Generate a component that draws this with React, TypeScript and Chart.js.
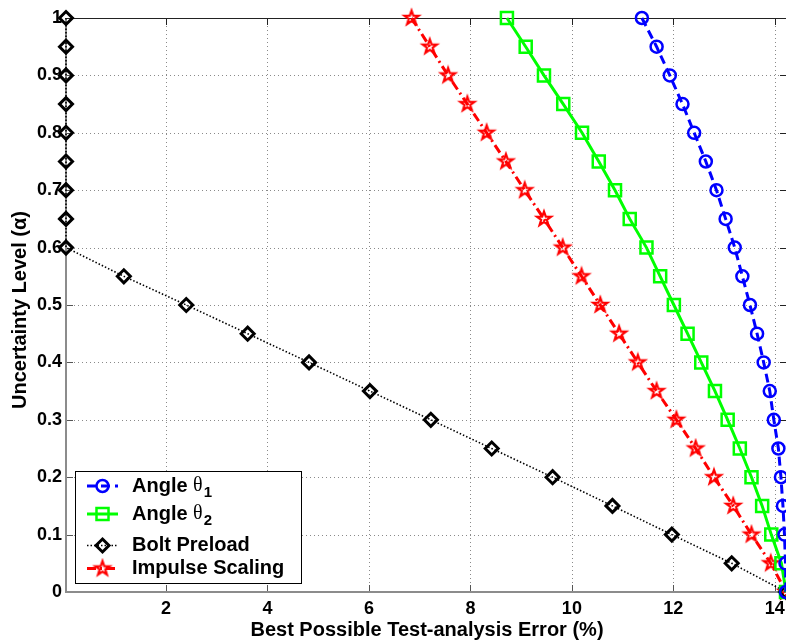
import { useEffect, useRef } from 'react';
import { Chart, registerables } from 'chart.js';

Chart.register(...registerables);

// Uncertainty levels shared by every curve (y values, top to bottom)
const uncertaintyLevels = [1.0, 0.95, 0.9, 0.85, 0.8, 0.75, 0.7, 0.65, 0.6, 0.55, 0.5, 0.45, 0.4, 0.35, 0.3, 0.25, 0.2, 0.15, 0.1, 0.05, 0];

// Best possible test-analysis error (%) for each parameter
const angleTheta1Error = [11.38, 11.67, 11.93, 12.18, 12.41, 12.64, 12.85, 13.03, 13.21, 13.36, 13.51, 13.65, 13.78, 13.9, 13.98, 14.07, 14.12, 14.16, 14.19, 14.21, 14.22];
const angleTheta2Error = [8.72, 9.09, 9.45, 9.83, 10.2, 10.53, 10.85, 11.14, 11.47, 11.74, 12.01, 12.28, 12.55, 12.82, 13.07, 13.31, 13.54, 13.75, 13.93, 14.13, 14.22];
const boltPreloadError = [0.03, 0.03, 0.03, 0.03, 0.03, 0.03, 0.03, 0.03, 0.03, 1.17, 2.4, 3.61, 4.82, 6.02, 7.22, 8.42, 9.62, 10.8, 11.97, 13.15, 14.22];
const impulseScalingError = [6.84, 7.2, 7.56, 7.94, 8.32, 8.7, 9.07, 9.45, 9.82, 10.19, 10.56, 10.93, 11.3, 11.67, 12.06, 12.44, 12.8, 13.18, 13.54, 13.92, 14.22];

const xTickValues = [2, 4, 6, 8, 10, 12, 14];
const yTickValues = [0, 0.1, 0.2, 0.3, 0.4, 0.5, 0.6, 0.7, 0.8, 0.9, 1];
const yTickLabels = ['0', '0.1', '0.2', '0.3', '0.4', '0.5', '0.6', '0.7', '0.8', '0.9', '1'];

const X_MIN = 0.03;
const X_MAX = 14.22;

const SANS = "'Liberation Sans', Arial, Helvetica, sans-serif";
const SERIF = "'Liberation Serif', 'Times New Roman', serif";

function makePentagram(color: string, outer: number, inner: number, lw: number) {
  const size = Math.ceil(outer * 2 + lw * 2 + 2);
  const c = document.createElement('canvas');
  c.width = size;
  c.height = size;
  const g = c.getContext('2d')!;
  const cx = size / 2;
  const cy = size / 2;
  g.beginPath();
  for (let i = 0; i < 10; i++) {
    const r = i % 2 === 0 ? outer : inner;
    const a = -Math.PI / 2 + (i * Math.PI) / 5;
    const px = cx + r * Math.cos(a);
    const py = cy + r * Math.sin(a);
    if (i === 0) g.moveTo(px, py);
    else g.lineTo(px, py);
  }
  g.closePath();
  g.strokeStyle = color;
  g.lineWidth = lw;
  g.lineJoin = 'miter';
  g.stroke();
  return c;
}

function toPoints(xs: number[]) {
  return xs.map((x, i) => ({ x, y: uncertaintyLevels[i] }));
}

export default function App() {
  const canvasRef = useRef<HTMLCanvasElement | null>(null);

  useEffect(() => {
    const canvas = canvasRef.current;
    if (!canvas) return;
    const star = makePentagram('#ff0000', 7.5, 3.0, 2.2);

    const series = [
      { label: 'Angle', sub: '1', color: '#0000ff', dash: [9, 5], width: 3, style: 'circle', radius: 6, border: 2.5, data: angleTheta1Error },
      { label: 'Angle', sub: '2', color: '#00ff00', dash: [] as number[], width: 3, style: 'rect', radius: 8.5, border: 2.5, data: angleTheta2Error },
      { label: 'Bolt Preload', sub: '', color: '#000000', dash: [1.5, 2], width: 1.6, style: 'rectRot', radius: 6.5, border: 3, data: boltPreloadError },
      { label: 'Impulse Scaling', sub: '', color: '#ff0000', dash: [9, 4, 2, 4], width: 3, style: 'star', radius: 7.5, border: 2, data: impulseScalingError },
    ];

    const framePlugin = {
      id: 'frame',
      beforeDatasetsDraw(chart: any) {
        const { ctx, chartArea } = chart;
        const { left, right, top, bottom } = chartArea;
        const xs = chart.scales.x;
        const ys = chart.scales.y;
        ctx.save();
        // dotted grid
        ctx.strokeStyle = '#8a8a8a';
        ctx.lineWidth = 1;
        ctx.setLineDash([1, 3]);
        xTickValues.forEach((v) => {
          const px = Math.round(xs.getPixelForValue(v)) + 0.5;
          ctx.beginPath();
          ctx.moveTo(px, top);
          ctx.lineTo(px, bottom);
          ctx.stroke();
        });
        yTickValues.filter((v) => v > 0 && v < 1).forEach((v) => {
          const py = Math.round(ys.getPixelForValue(v)) + 0.5;
          ctx.beginPath();
          ctx.moveTo(left, py);
          ctx.lineTo(right, py);
          ctx.stroke();
        });
        ctx.setLineDash([]);
        // tick marks pointing into the box
        const tl = 7;
        xTickValues.forEach((v) => {
          const px = Math.round(xs.getPixelForValue(v)) + 0.5;
          ctx.strokeStyle = '#555555';
          ctx.beginPath();
          ctx.moveTo(px, bottom);
          ctx.lineTo(px, bottom - tl);
          ctx.stroke();
          ctx.strokeStyle = '#222222';
          ctx.beginPath();
          ctx.moveTo(px, top);
          ctx.lineTo(px, top + tl);
          ctx.stroke();
        });
        yTickValues.forEach((v) => {
          const py = Math.round(ys.getPixelForValue(v)) + 0.5;
          ctx.strokeStyle = '#555555';
          ctx.beginPath();
          ctx.moveTo(left, py);
          ctx.lineTo(left + tl, py);
          ctx.stroke();
          ctx.strokeStyle = '#222222';
          ctx.beginPath();
          ctx.moveTo(right, py);
          ctx.lineTo(right - tl + 1, py);
          ctx.stroke();
        });
        // box
        ctx.strokeStyle = '#222222';
        ctx.lineWidth = 1.2;
        ctx.beginPath();
        ctx.moveTo(left, top + 0.5);
        ctx.lineTo(right, top + 0.5);
        ctx.stroke();
        ctx.strokeStyle = '#8c8c8c';
        ctx.lineWidth = 2;
        ctx.beginPath();
        ctx.moveTo(left, top);
        ctx.lineTo(left, bottom);
        ctx.lineTo(right, bottom);
        ctx.stroke();
        ctx.restore();
      },
      afterDraw(chart: any) {
        const { ctx } = chart;
        ctx.save();
        // axis titles
        ctx.fillStyle = '#000';
        ctx.font = `bold 20px ${SANS}`;
        ctx.textAlign = 'center';
        ctx.textBaseline = 'middle';
        ctx.fillText('Best Possible Test-analysis Error (%)', 427, 630);
        ctx.save();
        ctx.translate(20, 310);
        ctx.rotate(-Math.PI / 2);
        ctx.fillText('Uncertainty Level (α)', 0, 0);
        ctx.restore();

        // legend box
        const bx = 75, by = 471, bw = 226, bh = 112;
        ctx.fillStyle = '#ffffff';
        ctx.fillRect(bx, by, bw, bh);
        ctx.strokeStyle = '#000';
        ctx.lineWidth = 1;
        ctx.strokeRect(bx + 0.5, by + 0.5, bw, bh);
        const rows = [486, 514, 545.5, 568.5];
        series.forEach((s, i) => {
          const cy = rows[i];
          ctx.strokeStyle = s.color;
          ctx.lineWidth = s.width;
          ctx.setLineDash(s.dash);
          ctx.beginPath();
          ctx.moveTo(87, cy);
          ctx.lineTo(118, cy);
          ctx.stroke();
          ctx.setLineDash([]);
          const mx = 102.5;
          ctx.lineWidth = s.border;
          ctx.strokeStyle = s.color;
          ctx.beginPath();
          if (s.style === 'circle') {
            ctx.arc(mx, cy, s.radius, 0, Math.PI * 2);
            ctx.stroke();
          } else if (s.style === 'rect') {
            const h = s.radius * Math.SQRT1_2;
            ctx.rect(mx - h, cy - h, 2 * h, 2 * h);
            ctx.stroke();
          } else if (s.style === 'rectRot') {
            ctx.moveTo(mx, cy - s.radius);
            ctx.lineTo(mx + s.radius, cy);
            ctx.lineTo(mx, cy + s.radius);
            ctx.lineTo(mx - s.radius, cy);
            ctx.closePath();
            ctx.stroke();
          } else {
            ctx.drawImage(star, mx - star.width / 2, cy - star.height / 2);
          }
          ctx.fillStyle = '#000';
          ctx.textAlign = 'left';
          ctx.textBaseline = 'middle';
          ctx.font = `bold 20px ${SANS}`;
          const tx = 132;
          if (s.sub) {
            const t = s.label + ' ';
            ctx.fillText(t, tx, cy);
            let w = ctx.measureText(t).width;
            ctx.font = `20px ${SERIF}`;
            ctx.fillText('θ', tx + w, cy);
            w += ctx.measureText('θ').width;
            ctx.font = `bold 15px ${SANS}`;
            ctx.fillText(s.sub, tx + w + 1, cy + 7);
          } else {
            ctx.fillText(s.label, tx, cy);
          }
        });
        ctx.restore();
      },
    };

    const chart = new Chart(canvas, {
      type: 'line',
      data: {
        datasets: series.map((s) => ({
          label: s.label + (s.sub ? ' θ' + s.sub : ''),
          data: toPoints(s.data),
          borderColor: s.color,
          borderWidth: s.width,
          borderDash: s.dash,
          pointStyle: s.style === 'star' ? star : s.style,
          pointRadius: s.radius,
          pointBorderWidth: s.border,
          pointBorderColor: s.color,
          pointBackgroundColor: 'rgba(0,0,0,0)',
          fill: false,
          tension: 0,
          clip: false as any,
        })) as any,
      },
      options: {
        responsive: false,
        animation: false,
        devicePixelRatio: 1,
        layout: { autoPadding: false, padding: { top: 18, left: 0, right: 0, bottom: 0 } },
        plugins: { legend: { display: false }, tooltip: { enabled: false } },
        scales: {
          x: {
            type: 'linear',
            min: X_MIN,
            max: X_MAX,
            grid: { display: false, drawTicks: false },
            border: { display: false },
            afterBuildTicks: (scale: any) => {
              scale.ticks = xTickValues.map((v) => ({ value: v }));
            },
            afterFit: (scale: any) => {
              scale.height = 52;
              scale.paddingLeft = 0;
              scale.paddingRight = 0;
            },
            ticks: {
              padding: 6,
              maxRotation: 0,
              autoSkip: false,
              color: '#000',
              font: { family: SANS, size: 18, weight: 'bold' },
              callback: (v: any) => String(v),
            },
          },
          y: {
            type: 'linear',
            min: 0,
            max: 1,
            grid: { display: false, drawTicks: false },
            border: { display: false },
            afterBuildTicks: (scale: any) => {
              scale.ticks = yTickValues.map((v) => ({ value: v }));
            },
            afterFit: (scale: any) => {
              scale.width = 66;
              scale.paddingTop = 0;
              scale.paddingBottom = 0;
            },
            ticks: {
              padding: 4,
              autoSkip: false,
              color: '#000',
              font: { family: SANS, size: 18, weight: 'bold' },
              callback: (v: any) => {
                const i = yTickValues.findIndex((t) => Math.abs(t - v) < 1e-9);
                return i >= 0 ? yTickLabels[i] : '';
              },
            },
          },
        },
      },
      plugins: [framePlugin],
    });

    return () => chart.destroy();
  }, []);

  return (
    <div style={{ position: 'absolute', left: 0, top: 0, width: 786, height: 644, background: '#fff' }}>
      <canvas ref={canvasRef} width={786} height={644} style={{ display: 'block' }} />
    </div>
  );
}
